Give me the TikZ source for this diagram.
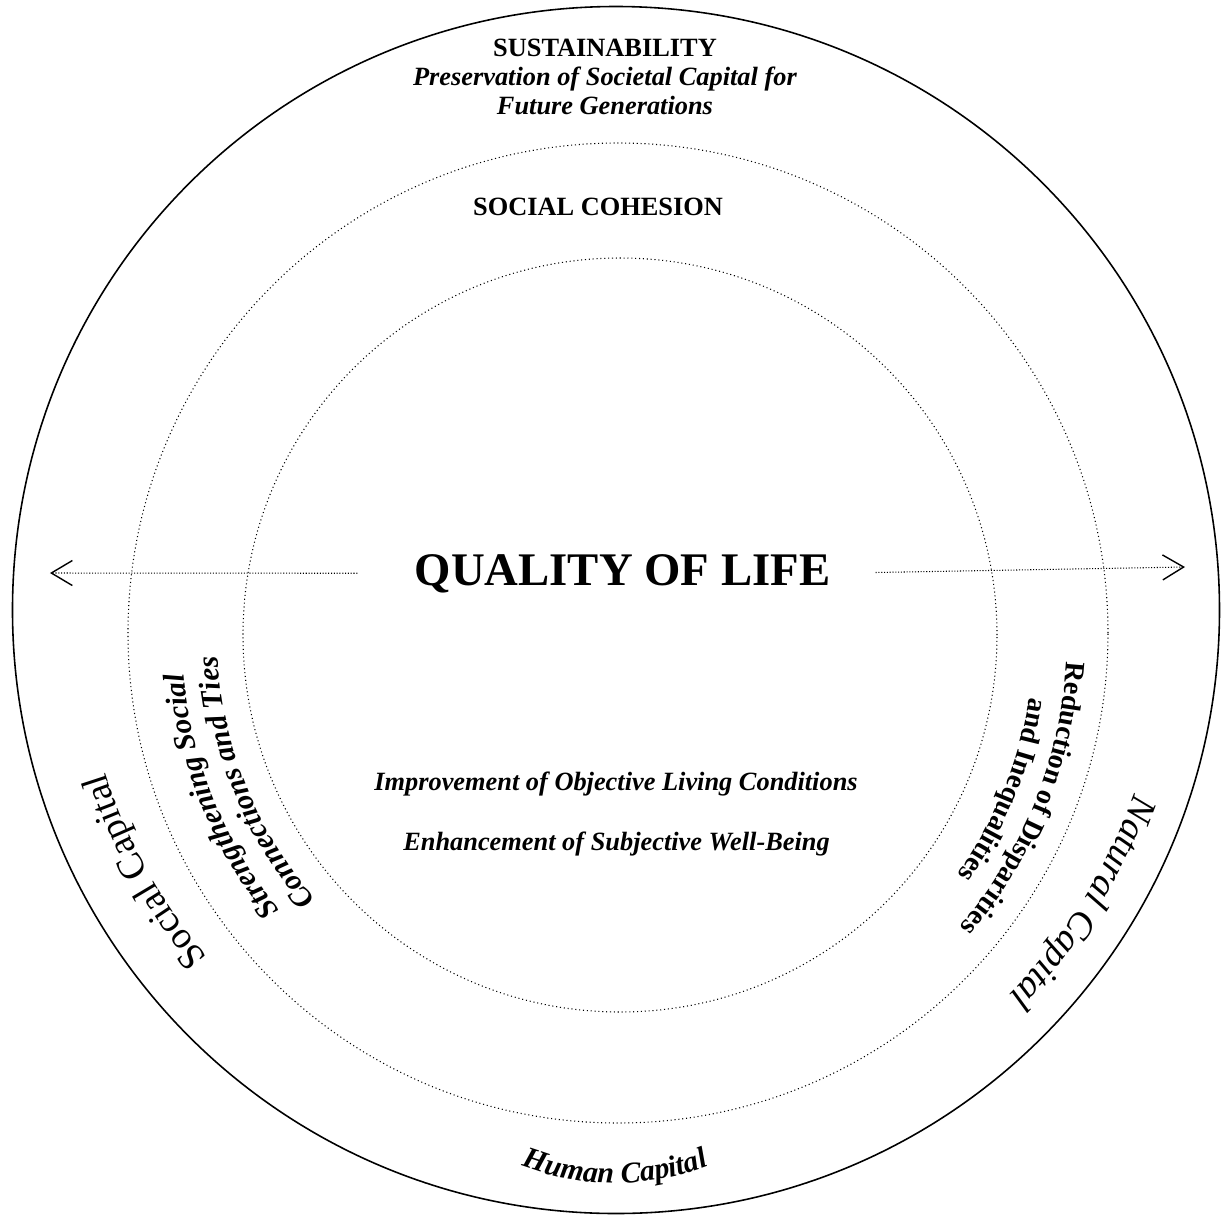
\documentclass[tikz,border=0pt]{standalone}
\usepackage{fontspec}
\setmainfont{Liberation Serif}
\newfontfamily\slantserif{Liberation Serif Italic}
\newfontfamily\boldslantserif{Liberation Serif Bold Italic}
\newfontfamily\boldserif{Liberation Serif Bold}
\usetikzlibrary{arrows.meta, decorations.text}

% fonts of the curved labels
\newcommand\capitalfont{\fontsize{21.5}{25}\selectfont}
\newcommand\naturalfont{\slantserif\fontsize{21.5}{25}\selectfont}
\newcommand\tiesfont{\boldslantserif\fontsize{17}{20}\selectfont}
\newcommand\gapsfont{\boldserif\fontsize{16}{19}\selectfont}

\begin{document}
\begin{tikzpicture}[
    % Styles
    rim/.style={line width=0.9pt},
    ring/.style={line width=0.6pt, dash pattern=on 0.6pt off 1.6pt},
    heading/.style={font=\fontsize{15}{16.5}\selectfont\bfseries, align=center},
    aim/.style={font=\fontsize{15}{18}\selectfont\bfseries\itshape},
    spread/.style={-{Straight Barb[length=0.42cm, width=0.5cm, line width=0.8pt]}, line width=0.6pt, dash pattern=on 0.6pt off 1pt},
    curved/.style={decorate, decoration={text along path, text align=center, text={#1}}},
]
\useasboundingbox (-12.32,-12.12) rectangle (12.10,12.20);

% Circles
\draw[rim] (0,0) circle (12.07);
\draw[ring] (0.04,-0.46) circle (9.8);
\draw[ring] (0.08,-0.5) circle (7.54);

% Headings
\node[heading] (sustain) at (-0.22, 10.66) {SUSTAINABILITY\\\textit{Preservation of Societal Capital for}\\\textit{Future Generations}};
\node[heading, anchor=base] (cohesion) at (-0.36, 7.9) {SOCIAL COHESION};

% Centre
\node[font=\fontsize{26.6}{30}\selectfont\bfseries, inner sep=0pt, anchor=base] (qol) at (0.13, 0.5) {QUALITY OF LIFE};
\node[aim, anchor=base] (objective) at (0, -3.6) {Improvement of Objective Living Conditions};
\node[aim, anchor=base] (subjective) at (0.01, -4.8) {Enhancement of Subjective Well-Being};

% Arrows
\coordinate (westtip) at (-11.32, 0.74);
\coordinate (easttip) at (11.38, 0.86);
\draw[spread, shorten <=1.14cm] (qol.west) -- (westtip);
\draw[spread, shorten <=0.9cm] (qol.east) -- (easttip);

% Capitals
\path[curved={|\capitalfont|Social Capital}] (244:10.72) arc[start angle=244, end angle=174, radius=10.72];
\path[curved={|\naturalfont|Natural Capital}] (3:11.0) arc[start angle=3, end angle=-67, radius=11.0];
\path[shift={(-0.02,-6.26)}, curved={|\tiesfont|Human Capital}] (230:5.2) arc[start angle=230, end angle=310, radius=5.2];

% Cohesion band
\begin{scope}[shift={(0.08,-0.5)}]
    \path[curved={|\tiesfont|Strengthening Social}] (242:8.76) arc[start angle=242, end angle=162, radius=8.76];
    \path[curved={|\tiesfont|Connections and Ties}] (242:8.06) arc[start angle=242, end angle=162, radius=8.06];
    \path[curved={|\gapsfont|Reduction of Disparities}] (18:8.95) arc[start angle=18, end angle=-62, radius=8.95];
    \path[curved={|\gapsfont|and Inequalities}] (18:8.28) arc[start angle=18, end angle=-62, radius=8.28];
\end{scope}

\end{tikzpicture}
\end{document}
